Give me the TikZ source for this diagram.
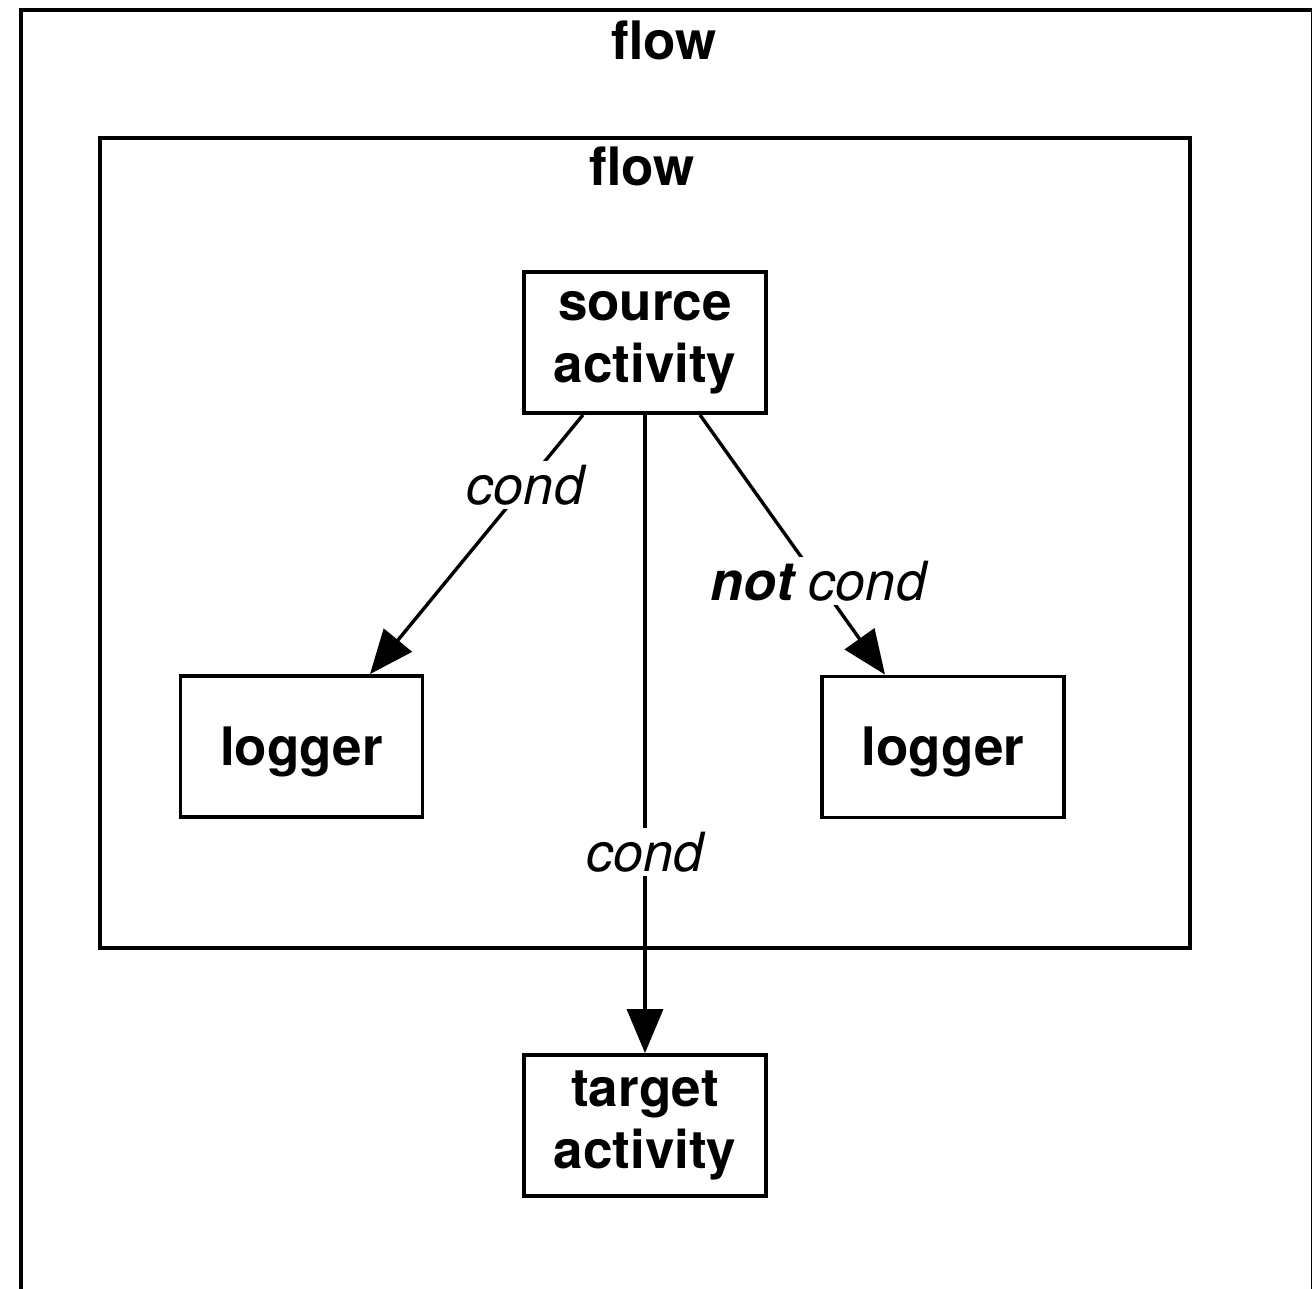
\documentclass[tikz,border=0pt]{standalone}
\usepackage{fontspec}
\setmainfont{TeX Gyre Heros}
\usetikzlibrary{arrows.meta}
\begin{document}
\begin{tikzpicture}[x=1pt,y=-1pt,
  every node/.style={font=\fontsize{53}{62}\selectfont},
  frame/.style={draw, line width=4pt},
  actbox/.style={draw, line width=3.8pt, minimum width=242pt, minimum height=141pt, align=center, inner sep=0pt, font=\fontsize{53}{62}\selectfont\bfseries},
  title/.style={font=\fontsize{53}{62}\selectfont\bfseries, inner sep=0pt},
  arr/.style={line width=3.4pt, -{Triangle[length=44pt,width=36pt]}},
  lbl/.style={fill=white, inner sep=4pt, font=\fontsize{54}{62}\selectfont\itshape}]
\useasboundingbox (0,0) rectangle (1312,1289);
\fill[white] (0,0) rectangle (1312,1289);
% outer flow frame (runs off the picture)
\draw[frame] (20.5,1300) -- (20.5,10) -- (1312.5,10) -- (1312.5,1300);
\node[title] (outerflow) at (664,40) {flow};
% inner flow
\node[draw, line width=4pt, minimum width=1090pt, minimum height=810pt, inner sep=0pt] (inner) at (645,543) {};
\node[title] (innerflow) at (642,166) {flow};
% activities
\node[actbox] (src) at (645,342.5) {source\\activity};
\node[actbox] (logL) at (301.5,746.5) {\raisebox{-5pt}[\height][\depth]{logger}};
\node[actbox] (logR) at (943,747) {\raisebox{-5pt}[\height][\depth]{logger}};
\node[actbox] (tgt) at (645,1125.5) {target\\activity};
% connectors
\draw[arr] ([xshift=-62pt]src.south) -- node[lbl, pos=0.27] (c1) {cond} ([xshift=68.5pt]logL.north);
\draw[arr] ([xshift=55pt]src.south) -- node[lbl, pos=0.64] (c2) {\textbf{not} cond} ([xshift=-58pt]logR.north);
\draw[arr] (src.south) -- node[lbl, pos=0.685] (c3) {cond} (tgt.north);
\end{tikzpicture}
\end{document}
